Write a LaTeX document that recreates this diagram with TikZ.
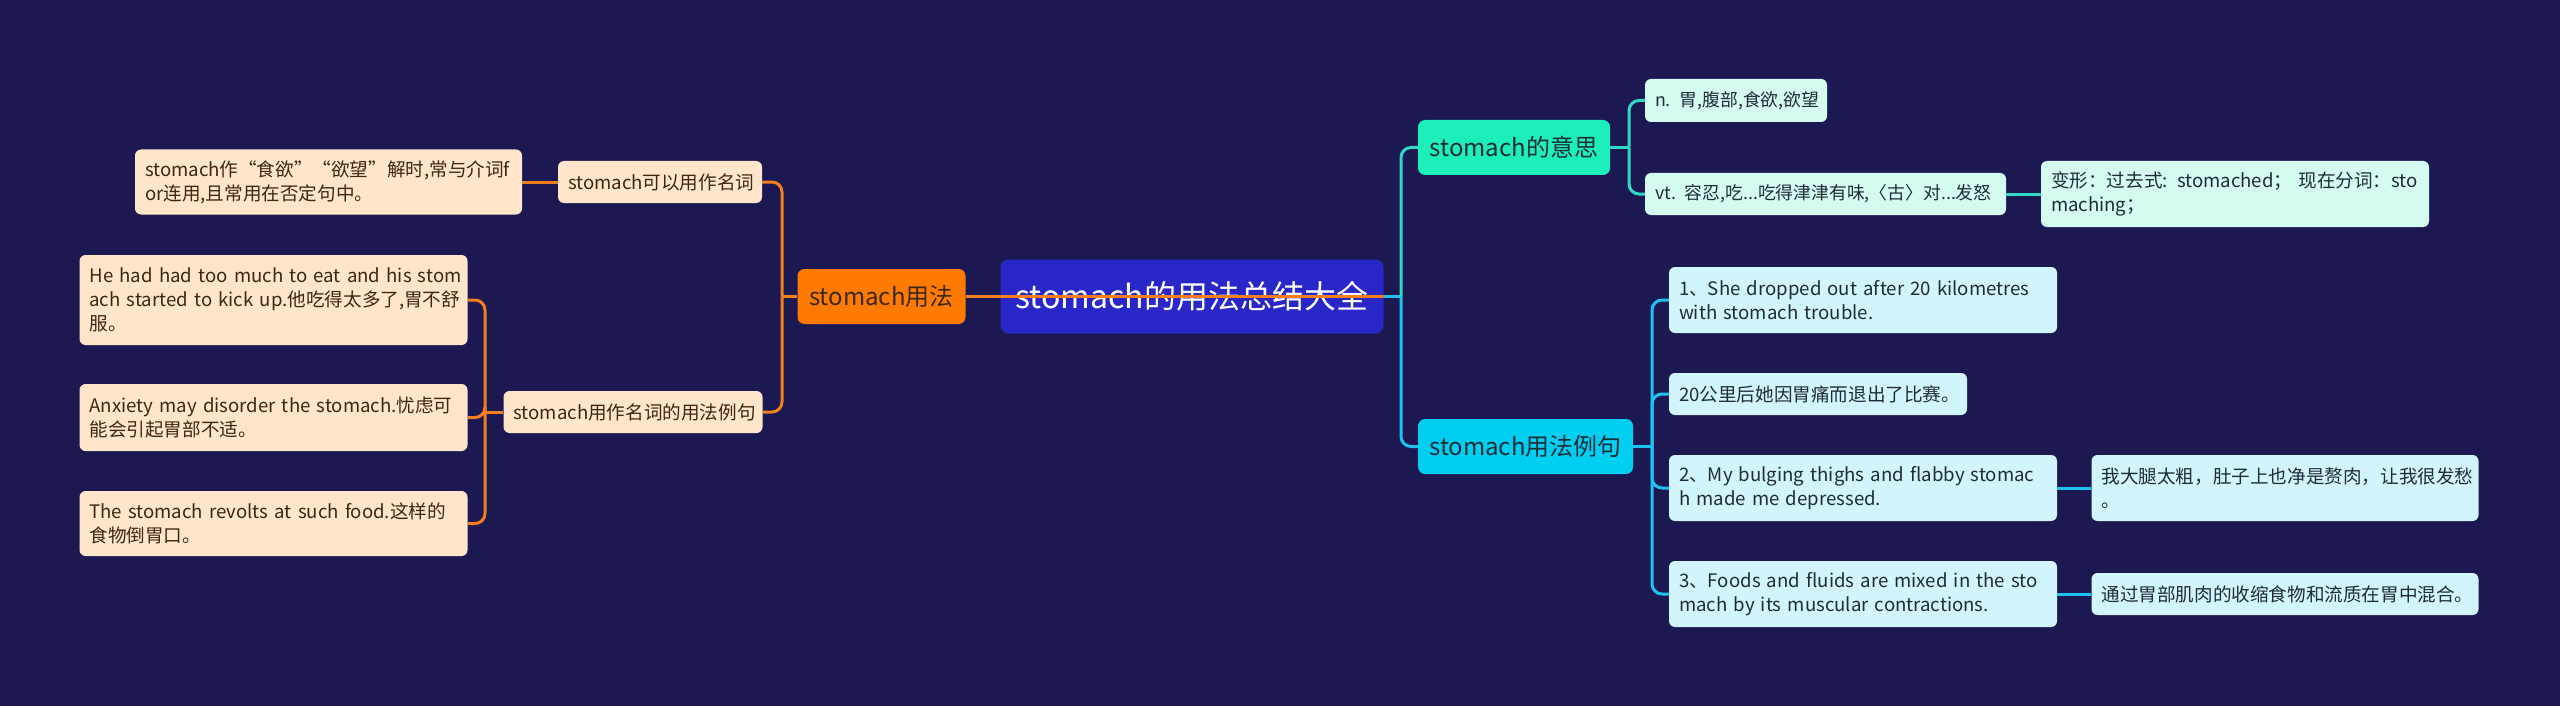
\documentclass[tikz,border=0pt]{standalone}
\usepackage{fontspec}
\setmainfont{Noto Sans CJK SC}
\newcommand\myboxfont{\fontsize{18.6}{24}\selectfont\spaceskip=3.7pt plus 1pt minus 1pt\relax}
\newcommand\mytightfont{\fontsize{17.8}{24}\selectfont\spaceskip=3.5pt plus 1pt minus 1pt\relax}
\definecolor{bgc}{HTML}{1B1852}
\definecolor{centc}{HTML}{2A27C8}
\definecolor{orn}{HTML}{FF7A00}
\definecolor{ornline}{HTML}{F27E1E}
\definecolor{peach}{HTML}{FFE5CA}
\definecolor{teal}{HTML}{1CEFB9}
\definecolor{tealline}{HTML}{2FD9C4}
\definecolor{cyanm}{HTML}{00CFF2}
\definecolor{cyanline}{HTML}{1DC3EE}
\definecolor{mintlt}{HTML}{D5FBF1}
\definecolor{cyanlt}{HTML}{D2F5FC}
\definecolor{darktxt}{HTML}{1E2C38}
\definecolor{browntxt}{HTML}{3A2816}
\pgfdeclarelayer{bg}
\pgfsetlayers{bg,main}
\tikzset{
  box/.style={rounded corners=6pt, inner xsep=10pt, inner ysep=0pt, align=left,
    font=\myboxfont},
  peachbox/.style={box, fill=peach, text=browntxt},
  mintbox/.style={box, fill=mintlt, text=darktxt},
  cyanbox/.style={box, fill=cyanlt, text=darktxt},
  mainbox/.style={rounded corners=7pt, inner sep=0pt, align=center,
    font=\fontsize{24}{28}\selectfont},
  conn/.style={line width=3pt, rounded corners=10pt},
  conorn/.style={conn, draw=ornline},
  conteal/.style={conn, draw=tealline},
  concyan/.style={conn, draw=cyanline},
}
\begin{document}
\begin{tikzpicture}[x=1pt,y=-1pt]
\useasboundingbox (0,0) rectangle (2560,706);
% central
\node[rounded corners=8pt, fill=centc, text=white, inner sep=0pt,
  minimum width=383pt, minimum height=74pt, font=\fontsize{32}{36}\selectfont]
  (root) at (1192,296.5) {stomach的用法总结大全};
% left main branch
\node[mainbox, fill=orn, text=browntxt, minimum width=168pt, minimum height=55pt]
  (use) at (881.5,296.5) {stomach用法};
\node[peachbox, minimum width=204pt, minimum height=42pt, text width=184pt]
  (noun) at (660,182) {\mbox{stomach可以用作名词}};
\node[peachbox, minimum width=387pt, minimum height=65pt, text width=367pt]
  (noun1) at (328.5,182) {\mbox{stomach作“食欲”“欲望”解时,常与介词f}\\\mbox{or连用,且常用在否定句中。}};
\node[peachbox, minimum width=259pt, minimum height=42pt, text width=239pt]
  (ex) at (633,412) {\mbox{stomach用作名词的用法例句}};
\node[peachbox, minimum width=388pt, minimum height=90pt, text width=368pt]
  (ex1) at (273.5,300) {\mbox{He had had too much to eat and his stom}\\\mbox{ach started to kick up.他吃得太多了,胃不舒}\\\mbox{服。}};
\node[peachbox, minimum width=388pt, minimum height=67pt, text width=368pt]
  (ex2) at (273.5,417.5) {\mbox{Anxiety may disorder the stomach.忧虑可}\\\mbox{能会引起胃部不适。}};
\node[peachbox, minimum width=388pt, minimum height=65pt, text width=368pt]
  (ex3) at (273.5,523.5) {\mbox{The stomach revolts at such food.这样的}\\\mbox{食物倒胃口。}};
% right main branches
\node[mainbox, fill=teal, text=darktxt, minimum width=192pt, minimum height=55pt]
  (mean) at (1514,147.5) {stomach的意思};
\node[mainbox, fill=cyanm, text=darktxt, minimum width=215pt, minimum height=55pt]
  (sent) at (1525.5,446.5) {stomach用法例句};
\node[mintbox, font=\mytightfont, minimum width=182pt, minimum height=43pt, text width=162pt]
  (m1) at (1736,100.5) {\mbox{n. 胃,腹部,食欲,欲望}};
\node[mintbox, font=\mytightfont, minimum width=361pt, minimum height=42pt, text width=341pt]
  (m2) at (1825.5,194) {\mbox{vt. 容忍,吃...吃得津津有味,〈古〉对...发怒}};
\node[mintbox, minimum width=388pt, minimum height=66pt, text width=368pt]
  (m2a) at (2235,194) {\mbox{变形：过去式: stomached；\ 现在分词：sto}\\\mbox{maching；}};
\node[cyanbox, minimum width=388pt, minimum height=66pt, text width=368pt]
  (s1) at (1863,300) {\mbox{1、She dropped out after 20 kilometres}\\\mbox{with stomach trouble.}};
\node[cyanbox, minimum width=298pt, minimum height=42pt, text width=278pt]
  (s2) at (1818,394) {\mbox{20公里后她因胃痛而退出了比赛。}};
\node[cyanbox, minimum width=388pt, minimum height=66pt, text width=368pt]
  (s3) at (1863,488) {\mbox{2、My bulging thighs and flabby stomac}\\\mbox{h made me depressed.}};
\node[cyanbox, minimum width=387pt, minimum height=66pt, text width=367pt]
  (s3a) at (2285,488) {\mbox{我大腿太粗，肚子上也净是赘肉，让我很发愁}\\\mbox{。}};
\node[cyanbox, minimum width=388pt, minimum height=66pt, text width=368pt]
  (s4) at (1863,594) {\mbox{3、Foods and fluids are mixed in the sto}\\\mbox{mach by its muscular contractions.}};
\node[cyanbox, minimum width=387pt, minimum height=42pt, text width=367pt]
  (s4a) at (2285,594) {\mbox{通过胃部肌肉的收缩食物和流质在胃中混合。}};
% junctions
\coordinate (jl) at (782,296.5);
\coordinate (jex) at (485,412);
\coordinate (jr) at (1401,296.5);
\coordinate (jm) at (1629,147.5);
\coordinate (js) at (1652,446.5);
\begin{pgfonlayer}{bg}
\fill[bgc] (0,0) rectangle (2560,706);
\draw[conorn] (use.west) -- (jl);
\draw[conorn] (jl) |- (noun.east);
\draw[conorn] (jl) |- (ex.east);
\draw[conorn] (noun.west) -- (noun1.east);
\draw[conorn] (ex.west) -- (jex);
\draw[conorn] (jex) |- (ex1.east);
\draw[conorn] (jex) |- (ex2.east);
\draw[conorn] (jex) |- (ex3.east);
\draw[concyan] (root.east) -- (jr);
\draw[conteal] (jr) |- (mean.west);
\draw[concyan] (jr) |- (sent.west);
\draw[conteal] (mean.east) -- (jm);
\draw[conteal] (jm) |- (m1.west);
\draw[conteal] (jm) |- (m2.west);
\draw[conteal] (m2.east) -- (m2a.west);
\draw[concyan] (sent.east) -- (js);
\draw[concyan] (js) |- (s1.west);
\draw[concyan] (js) |- (s2.west);
\draw[concyan] (js) |- (s3.west);
\draw[concyan] (js) |- (s4.west);
\draw[concyan] (s3.east) -- (s3a.west);
\draw[concyan] (s4.east) -- (s4a.west);
\end{pgfonlayer}
% orange line drawn across the central node, as in the reference
\draw[conorn, line width=2.5pt] (use.east) -- (root.east);
\end{tikzpicture}
\end{document}
